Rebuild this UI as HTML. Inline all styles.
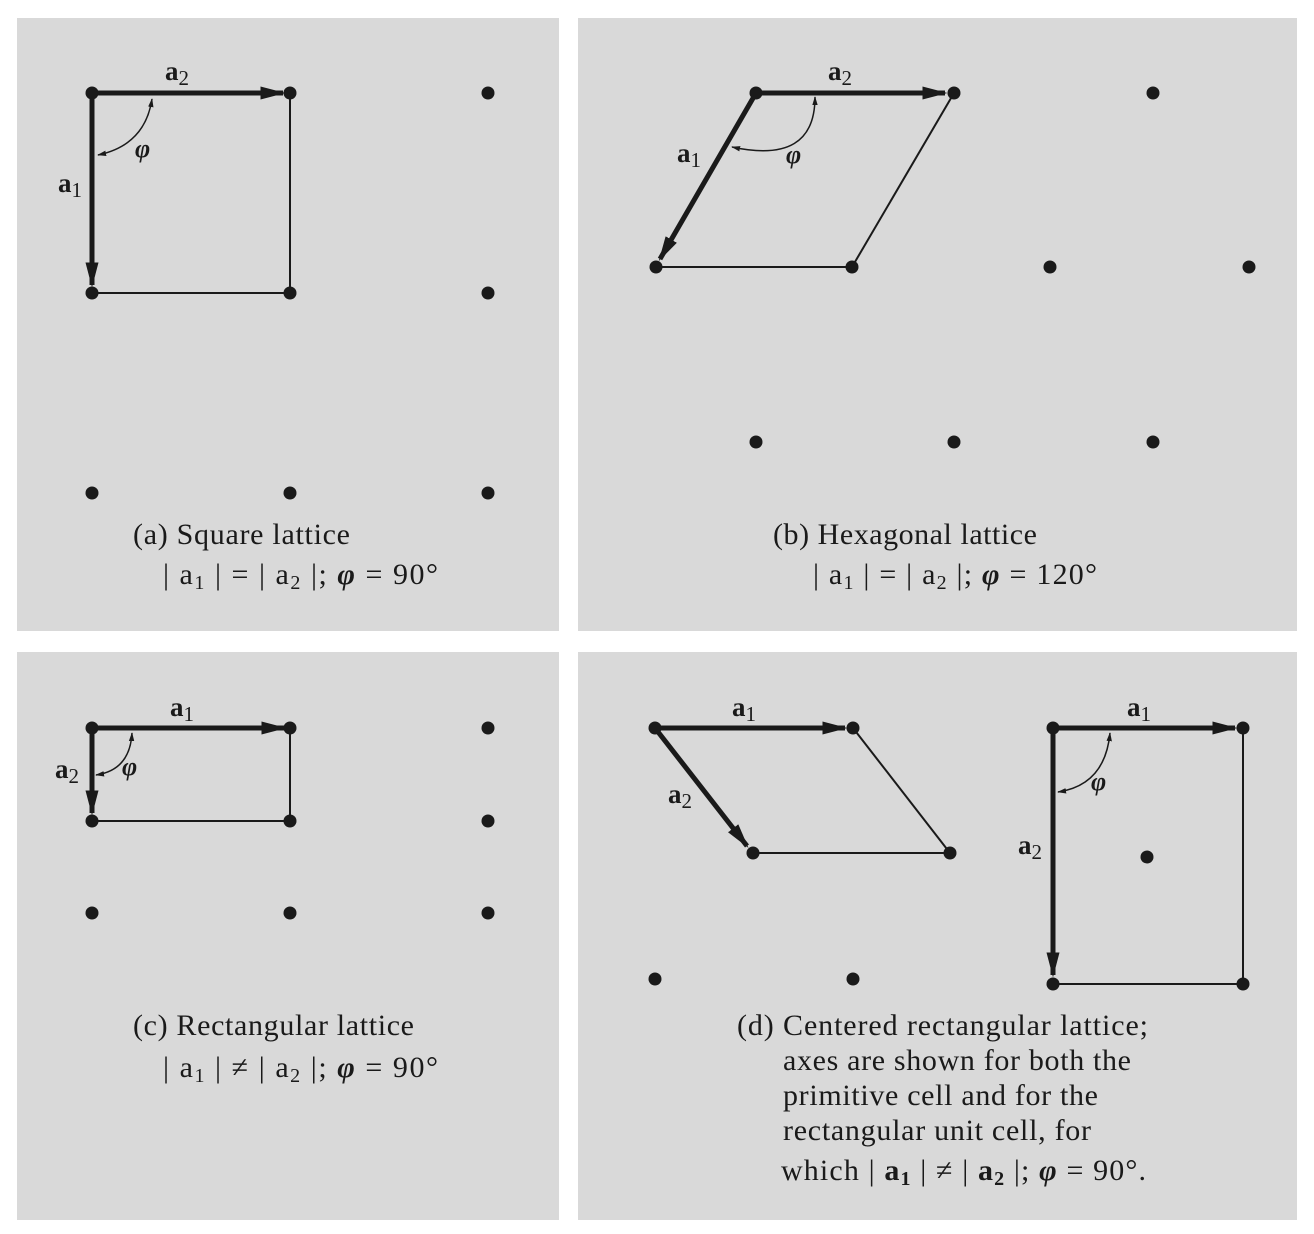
<!DOCTYPE html>
<html><head><meta charset="utf-8">
<style>
html,body{margin:0;padding:0;background:#fff;}
svg{display:block;}
text{font-family:"Liberation Serif",serif;fill:#1a1a1a;}
.cap{font-size:30px;}
.lbl{font-size:27px;font-weight:bold;}
.phi{font-size:26px;font-style:italic;font-weight:bold;}
</style></head>
<body>
<svg id="fig" width="1314" height="1234" viewBox="0 0 1314 1234">
<defs>
<marker id="ah" viewBox="0 0 10 10" refX="9" refY="5" markerWidth="5" markerHeight="5" orient="auto" markerUnits="strokeWidth">
<path d="M0,2.4 L10,5 L0,7.6 z" fill="#1a1a1a"/></marker>
<marker id="sh" viewBox="0 0 10 10" refX="9" refY="5" markerWidth="6" markerHeight="6" orient="auto" markerUnits="strokeWidth">
<path d="M0,2 L10,5 L0,8 z" fill="#1a1a1a"/></marker>
<marker id="shs" viewBox="0 0 10 10" refX="9" refY="5" markerWidth="6" markerHeight="6" orient="auto-start-reverse" markerUnits="strokeWidth">
<path d="M0,2 L10,5 L0,8 z" fill="#1a1a1a"/></marker>
</defs>
<rect x="17" y="18" width="542" height="613" fill="#d9d9d9"/>
<rect x="578" y="18" width="719" height="613" fill="#d9d9d9"/>
<rect x="17" y="652" width="542" height="568" fill="#d9d9d9"/>
<rect x="578" y="652" width="719" height="568" fill="#d9d9d9"/>
<g id="marks"></g>

<text class="lbl" x="165" y="80">a<tspan font-weight="normal" font-size="21" dy="5">2</tspan></text>
<text class="lbl" x="58" y="192">a<tspan font-weight="normal" font-size="21" dy="5">1</tspan></text>
<text class="phi" x="135" y="157">φ</text>

<text class="lbl" x="828" y="80">a<tspan font-weight="normal" font-size="21" dy="5">2</tspan></text>
<text class="lbl" x="677" y="162">a<tspan font-weight="normal" font-size="21" dy="5">1</tspan></text>
<text class="phi" x="786" y="163">φ</text>

<text class="lbl" x="170" y="716">a<tspan font-weight="normal" font-size="21" dy="5">1</tspan></text>
<text class="lbl" x="55" y="778">a<tspan font-weight="normal" font-size="21" dy="5">2</tspan></text>
<text class="phi" x="122" y="775">φ</text>

<text class="lbl" x="732" y="716">a<tspan font-weight="normal" font-size="21" dy="5">1</tspan></text>
<text class="lbl" x="668" y="803">a<tspan font-weight="normal" font-size="21" dy="5">2</tspan></text>
<text class="lbl" x="1127" y="716">a<tspan font-weight="normal" font-size="21" dy="5">1</tspan></text>
<text class="lbl" x="1018" y="854">a<tspan font-weight="normal" font-size="21" dy="5">2</tspan></text>
<text class="phi" x="1091" y="790">φ</text>

<text class="cap" x="133" y="544" textLength="217" lengthAdjust="spacing">(a) Square lattice</text>
<text class="cap" x="163" y="584" textLength="275" lengthAdjust="spacing">| a<tspan font-size="20" dy="5">1</tspan><tspan dy="-5"> | = | a</tspan><tspan font-size="20" dy="5">2</tspan><tspan dy="-5"> |; </tspan><tspan font-style="italic" font-weight="bold">φ</tspan> = 90°</text>

<text class="cap" x="773" y="544" textLength="264" lengthAdjust="spacing">(b) Hexagonal lattice</text>
<text class="cap" x="813" y="584" textLength="284" lengthAdjust="spacing">| a<tspan font-size="20" dy="5">1</tspan><tspan dy="-5"> | = | a</tspan><tspan font-size="20" dy="5">2</tspan><tspan dy="-5"> |; </tspan><tspan font-style="italic" font-weight="bold">φ</tspan> = 120°</text>

<text class="cap" x="133" y="1035" textLength="281" lengthAdjust="spacing">(c) Rectangular lattice</text>
<text class="cap" x="163" y="1077" textLength="275" lengthAdjust="spacing">| a<tspan font-size="20" dy="5">1</tspan><tspan dy="-5"> | ≠ | a</tspan><tspan font-size="20" dy="5">2</tspan><tspan dy="-5"> |; </tspan><tspan font-style="italic" font-weight="bold">φ</tspan> = 90°</text>

<text class="cap" x="737" y="1035" textLength="411" lengthAdjust="spacing">(d) Centered rectangular lattice;</text>
<text class="cap" x="783" y="1070" textLength="348" lengthAdjust="spacing">axes are shown for both the</text>
<text class="cap" x="783" y="1105" textLength="315" lengthAdjust="spacing">primitive cell and for the</text>
<text class="cap" x="783" y="1140" textLength="308" lengthAdjust="spacing">rectangular unit cell, for</text>
<text class="cap" x="781" y="1180" textLength="365" lengthAdjust="spacing">which | <tspan font-weight="bold">a</tspan><tspan font-size="20" dy="5" font-weight="bold">1</tspan><tspan dy="-5"> | ≠ | </tspan><tspan font-weight="bold">a</tspan><tspan font-size="20" dy="5" font-weight="bold">2</tspan><tspan dy="-5"> |; </tspan><tspan font-style="italic" font-weight="bold">φ</tspan> = 90°.</text>
</svg>
<script>
const pointsA = [[92,93],[290,93],[488,93],[92,293],[290,293],[488,293],[92,493],[290,493],[488,493]];
const pointsB = [[756,93],[954,93],[1153,93],[656,267],[852,267],[1050,267],[1249,267],[756,442],[954,442],[1153,442]];
const pointsC = [[92,728],[290,728],[488,728],[92,821],[290,821],[488,821],[92,913],[290,913],[488,913]];
const pointsD = [[655,728],[853,728],[753,853],[950,853],[655,979],[853,979],[1053,728],[1243,728],[1147,857],[1053,984],[1243,984]];
const thinLines = [[290,93,290,293],[92,293,290,293],[954,93,852,267],[656,267,852,267],[290,728,290,821],[92,821,290,821],[853,728,950,853],[753,853,950,853],[1243,728,1243,984],[1053,984,1243,984]];
const arrows = [[92,93,283,93],[92,93,92,285],[756,93,945,93],[756,93,660,259],[92,728,284,728],[92,728,92,813],[655,728,845,728],[655,728,747,846],[1053,728,1235,728],[1053,728,1053,975]];
const arcs = ["M152,99 Q145,145 98,155","M815,97 Q815,165 732,147","M132,733 Q130,770 96,775","M1110,733 Q1105,785 1058,792"];

const NS="http://www.w3.org/2000/svg";
const g=document.getElementById('marks');
function mk(tag,attrs){const e=document.createElementNS(NS,tag);for(const k in attrs)e.setAttribute(k,attrs[k]);g.appendChild(e);return e;}
thinLines.forEach(l=>{
  const e=mk('line',{x1:l[0],y1:l[1],x2:l[2],y2:l[3],stroke:'#1a1a1a','stroke-width':2});
  
  
});
arrows.forEach(l=>{
  const e=mk('line',{x1:l[0],y1:l[1],x2:l[2],y2:l[3],stroke:'#1a1a1a','stroke-width':5,'marker-end':'url(#ah)'});
  
  
});
arcs.forEach(d=>{
  const e=mk('path',{d:d,fill:'none',stroke:'#1a1a1a','stroke-width':1.5,'marker-start':'url(#shs)','marker-end':'url(#sh)'});
  
  
});
[pointsA,pointsB,pointsC,pointsD].forEach(ps=>ps.forEach(p=>{
  const e=mk('circle',{cx:p[0],cy:p[1],r:6.5,fill:'#1a1a1a'});
  
  
}));
</script>
</body></html>
